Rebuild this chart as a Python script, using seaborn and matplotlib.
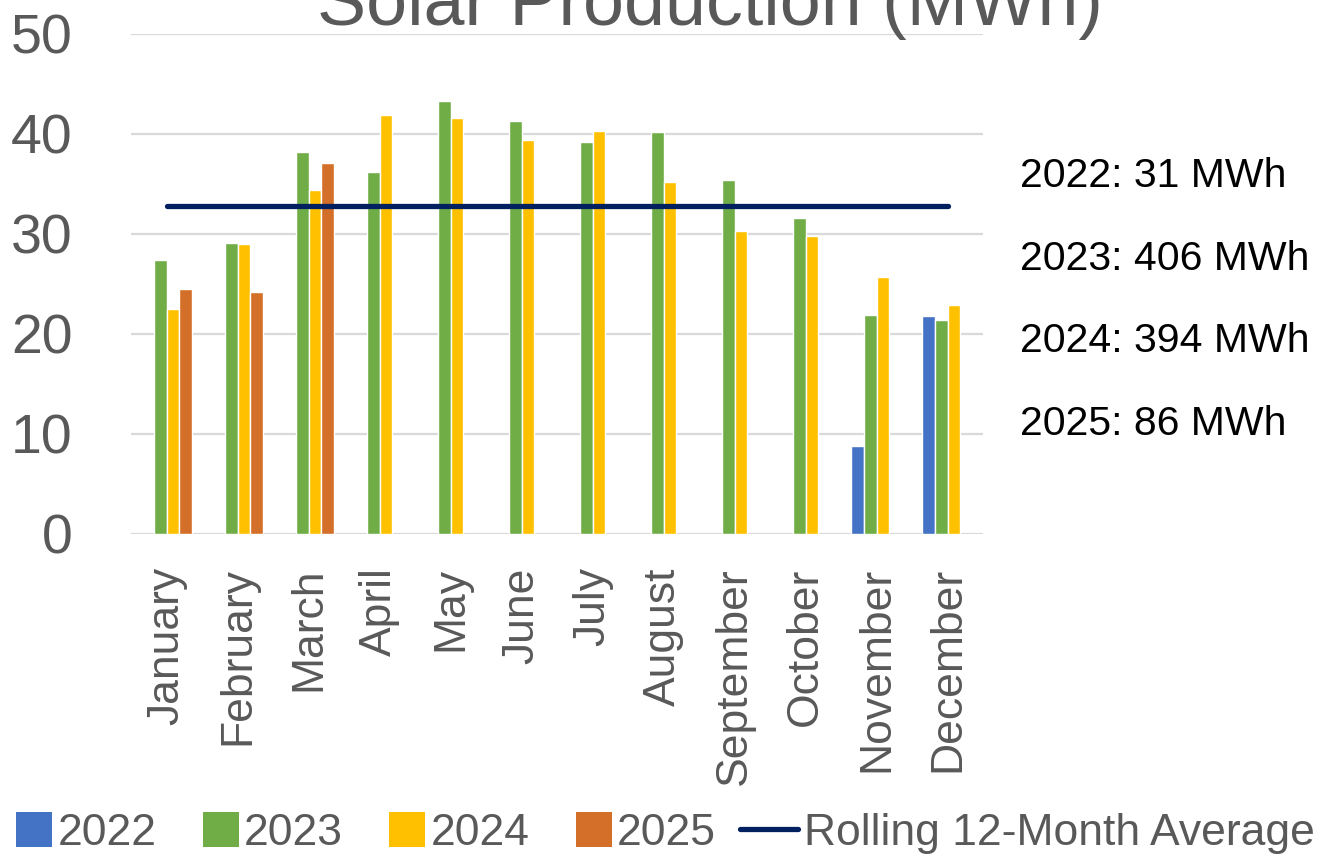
import numpy as np
import pandas as pd
import matplotlib
matplotlib.use("Agg")
import matplotlib.pyplot as plt
import seaborn as sns
from matplotlib.patches import Patch, Rectangle
from matplotlib.lines import Line2D
from matplotlib.legend_handler import HandlerPatch

months = ["January", "February", "March", "April", "May", "June", "July",
          "August", "September", "October", "November", "December"]
years = ["2022", "2023", "2024", "2025"]
nan = np.nan
v2022 = [nan, nan, nan, nan, nan, nan, nan, nan, nan, nan, 8.8, 21.8]
v2023 = [27.4, 29.1, 38.2, 36.2, 43.3, 41.3, 39.2, 40.2, 35.4, 31.6, 21.9, 21.4]
v2024 = [22.5, 29.0, 34.4, 41.9, 41.6, 39.4, 40.3, 35.2, 30.3, 29.8, 25.7, 22.9]
v2025 = [24.5, 24.2, 37.1, nan, nan, nan, nan, nan, nan, nan, nan, nan]
rolling_avg = [32.8] * 12
totals = ["2022: 31 MWh", "2023: 406 MWh", "2024: 394 MWh", "2025: 86 MWh"]
colors = ["#4472C4", "#70AD47", "#FFC000", "#D46F2A"]
line_color = "#002060"
title = "Solar Production (MWh)"

sns.set_theme(style="white")
plt.rcParams["font.family"] = ["Liberation Sans", "DejaVu Sans"]

df = pd.DataFrame({
    "month": months * 4,
    "year": sum([[y] * 12 for y in years], []),
    "value": v2022 + v2023 + v2024 + v2025,
})

fig = plt.figure(figsize=(13.3, 8.61), dpi=100)
ax = fig.add_axes([131 / 1330, 327 / 861, (983 - 131) / 1330, 500 / 861])

sns.barplot(data=df, x="month", y="value", hue="year", order=months,
            hue_order=years, palette=colors, width=0.72, errorbar=None,
            saturation=1, ax=ax, legend=False)
sns.lineplot(x=np.arange(12), y=rolling_avg, color=line_color, linewidth=3.8,
             ax=ax, solid_capstyle="round")

ax.set_ylim(0, 50)
ax.set_xlim(-0.5, 11.5)
ax.set_yticks([0, 10, 20, 30, 40, 50])
ax.yaxis.grid(True, color="#D9D9D9", linewidth=1.6)
ax.set_axisbelow(True)
for s in ax.spines.values():
    s.set_visible(False)
ax.set_xlabel("")
ax.set_ylabel("")
ax.tick_params(axis="y", labelsize=40, labelcolor="#595959", length=0, pad=42)
ax.tick_params(axis="x", labelsize=32, labelcolor="#595959", length=0, pad=24)
plt.setp(ax.get_xticklabels(), rotation=90)

fig.text(0.534, 0.971, title, ha="center", va="baseline", fontsize=53,
         color="#595959")

ys = [0.783, 0.686, 0.591, 0.495]
for t, y in zip(totals, ys):
    fig.text(0.767, y, t, ha="left", va="baseline", fontsize=29.5, color="black")


def square(legend, orig_handle, xdescent, ydescent, width, height, fontsize):
    side = height * 1.1
    return Rectangle((width - side - xdescent, -ydescent - 0.05 * height), side, side)


handles = [Patch(facecolor=c, edgecolor="none") for c in colors]
handles.append(Line2D([0], [0], color=line_color, linewidth=3.8,
                      solid_capstyle="round"))
labels = years + ["Rolling 12-Month Average"]
fig.legend(handles, labels, loc="lower center", bbox_to_anchor=(0.492, -0.028),
           ncol=5, frameon=False, fontsize=32, handlelength=1.3,
           handleheight=0.75, handletextpad=0.12, columnspacing=0.55,
           labelcolor="#595959", borderaxespad=0.3,
           handler_map={Patch: HandlerPatch(patch_func=square)})

fig.savefig("out.png", dpi=100)
